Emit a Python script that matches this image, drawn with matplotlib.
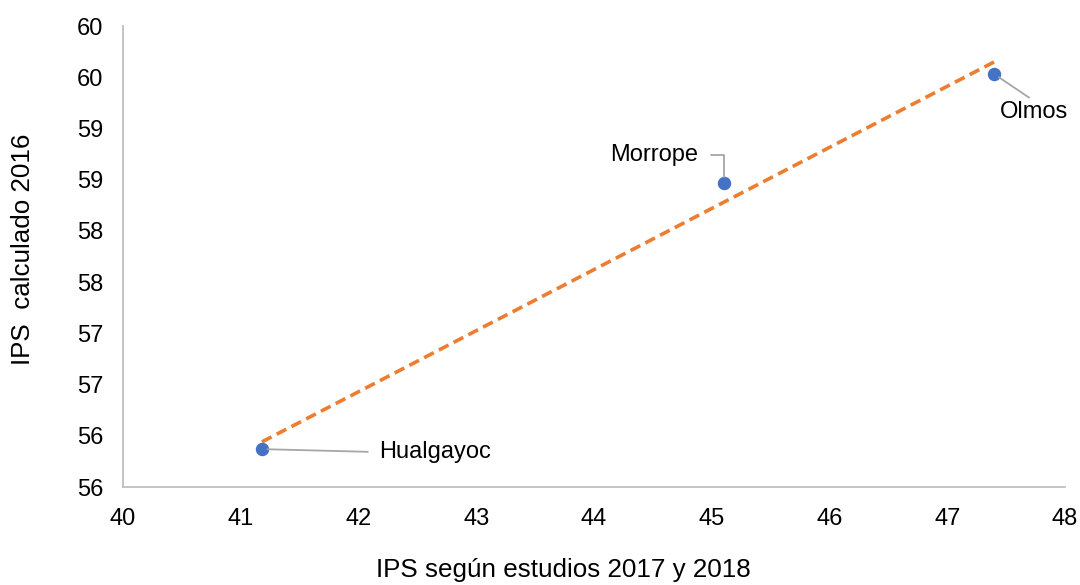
import matplotlib
matplotlib.use("Agg")
import matplotlib.pyplot as plt
import numpy as np
from matplotlib.ticker import FuncFormatter, MultipleLocator

# values
districts = ["Hualgayoc", "Morrope", "Olmos"]
ips_estudios = [41.18, 45.10, 47.40]
ips_calculado = [55.87, 58.47, 59.53]

plt.rcParams["font.family"] = ["Liberation Sans", "DejaVu Sans"]
plt.rcParams["font.size"] = 17

fig = plt.figure(figsize=(10.8, 5.85), dpi=100)
ax = fig.add_axes([0.1139, 0.1675, 0.8722, 0.7880])

ax.scatter(ips_estudios, ips_calculado, s=75, color="#4472C4", zorder=3)

# linear trendline over the data range
slope, intercept = np.polyfit(ips_estudios, ips_calculado, 1)
xs = np.array([min(ips_estudios), max(ips_estudios)])
ax.plot(xs, slope * xs + intercept, color="#ED7D31", lw=2.6, ls=(0, (3, 1.6)), zorder=2)

leader = dict(arrowstyle="-", color="#A6A6A6", lw=1.3, shrinkA=6, shrinkB=4)
label_pos = {
    "Hualgayoc": dict(xytext=(117, -3), ha="left", va="center",
                      arrowprops=dict(leader, relpos=(0, 0.5), shrinkA=6)),
    "Morrope": dict(xytext=(-25, 28), ha="right", va="center",
                    arrowprops=dict(leader, relpos=(1, 0.5), shrinkA=7,
                                    connectionstyle="angle,angleA=0,angleB=90,rad=0")),
    "Olmos": dict(xytext=(40, -38), ha="center", va="center",
                  arrowprops=dict(leader, relpos=(0.5, 1), shrinkA=1)),
}
for name, x, y in zip(districts, ips_estudios, ips_calculado):
    ax.annotate(name, (x, y), textcoords="offset pixels", **label_pos[name])

ax.set_xlim(40, 48)
ax.set_ylim(55.5, 60)
ax.xaxis.set_major_locator(MultipleLocator(1))
ax.yaxis.set_major_locator(MultipleLocator(0.5))
ax.yaxis.set_major_formatter(FuncFormatter(lambda v, p: f"{int(np.floor(v + 0.5))}"))
ax.tick_params(axis="x", length=0, pad=15)
ax.tick_params(axis="y", length=0, pad=14)

for side in ["top", "right"]:
    ax.spines[side].set_visible(False)
for side in ["left", "bottom"]:
    ax.spines[side].set_color("#BFBFBF")
    ax.spines[side].set_linewidth(1.3)

ax.set_xlabel("IPS según estudios 2017 y 2018", fontsize=18.7, labelpad=20)
ax.set_ylabel("IPS  calculado 2016", fontsize=18.7, labelpad=30)
ax.xaxis.set_label_coords(0.468, -0.155)
ax.yaxis.set_label_coords(-0.093, 0.516)

fig.savefig("out.png", dpi=100)
